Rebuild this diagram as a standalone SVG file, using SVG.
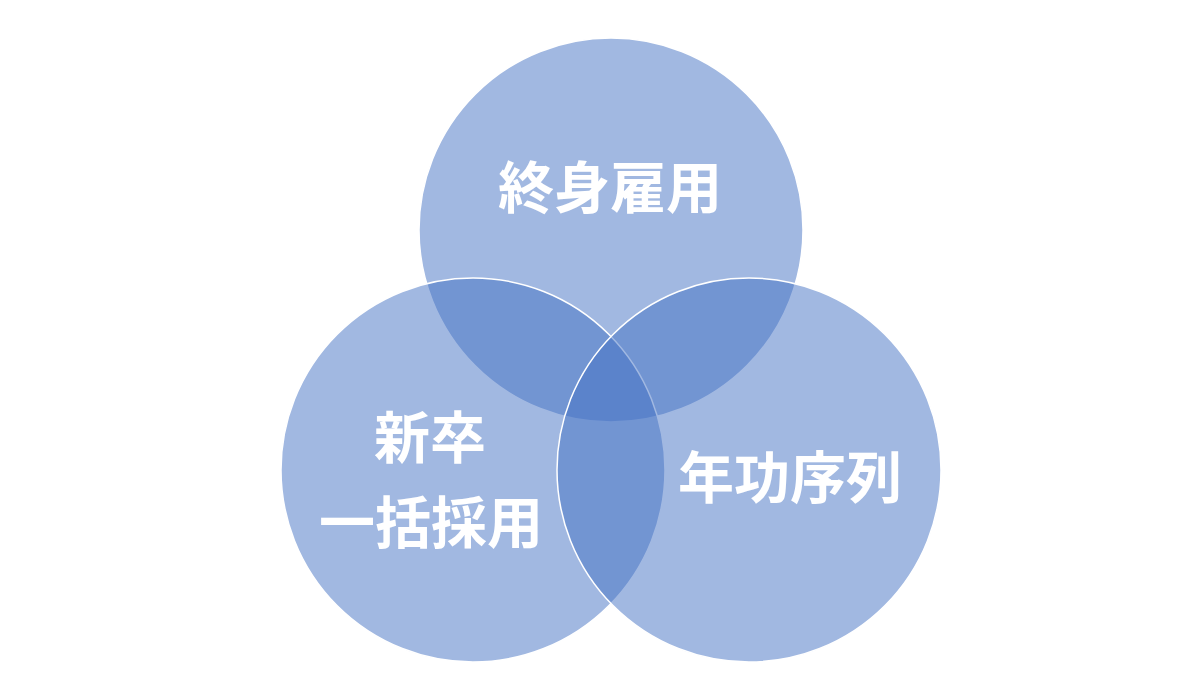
<svg xmlns="http://www.w3.org/2000/svg" width="1200" height="700" viewBox="0 0 1200 700">
  <style>
    .set { fill: #4472C4; fill-opacity: 0.5; stroke: #ffffff; stroke-width: 1.5; }
    .label { fill: #ffffff; font-family: "Noto Sans CJK JP", "Noto Sans CJK SC", sans-serif; font-size: 56px; font-weight: 700; text-anchor: middle; dominant-baseline: central; }
  </style>
  <rect x="0" y="0" width="1200" height="700" fill="#ffffff"/>
  <g id="connectors"></g>
  <g id="node-shushin-koyo">
    <circle class="set" cx="611" cy="230" r="192"/>
  </g>
  <g id="node-shinsotsu">
    <circle class="set" cx="473" cy="470" r="192"/>
  </g>
  <g id="node-nenko">
    <circle class="set" cx="749" cy="470" r="192"/>
  </g>
  <g id="labels">
    <text class="label" x="610" y="183">終身雇用</text>
    <text class="label" x="430" y="433">新卒</text>
    <text class="label" x="431" y="518">一括採用</text>
    <text class="label" x="790" y="473">年功序列</text>
  </g>
</svg>
